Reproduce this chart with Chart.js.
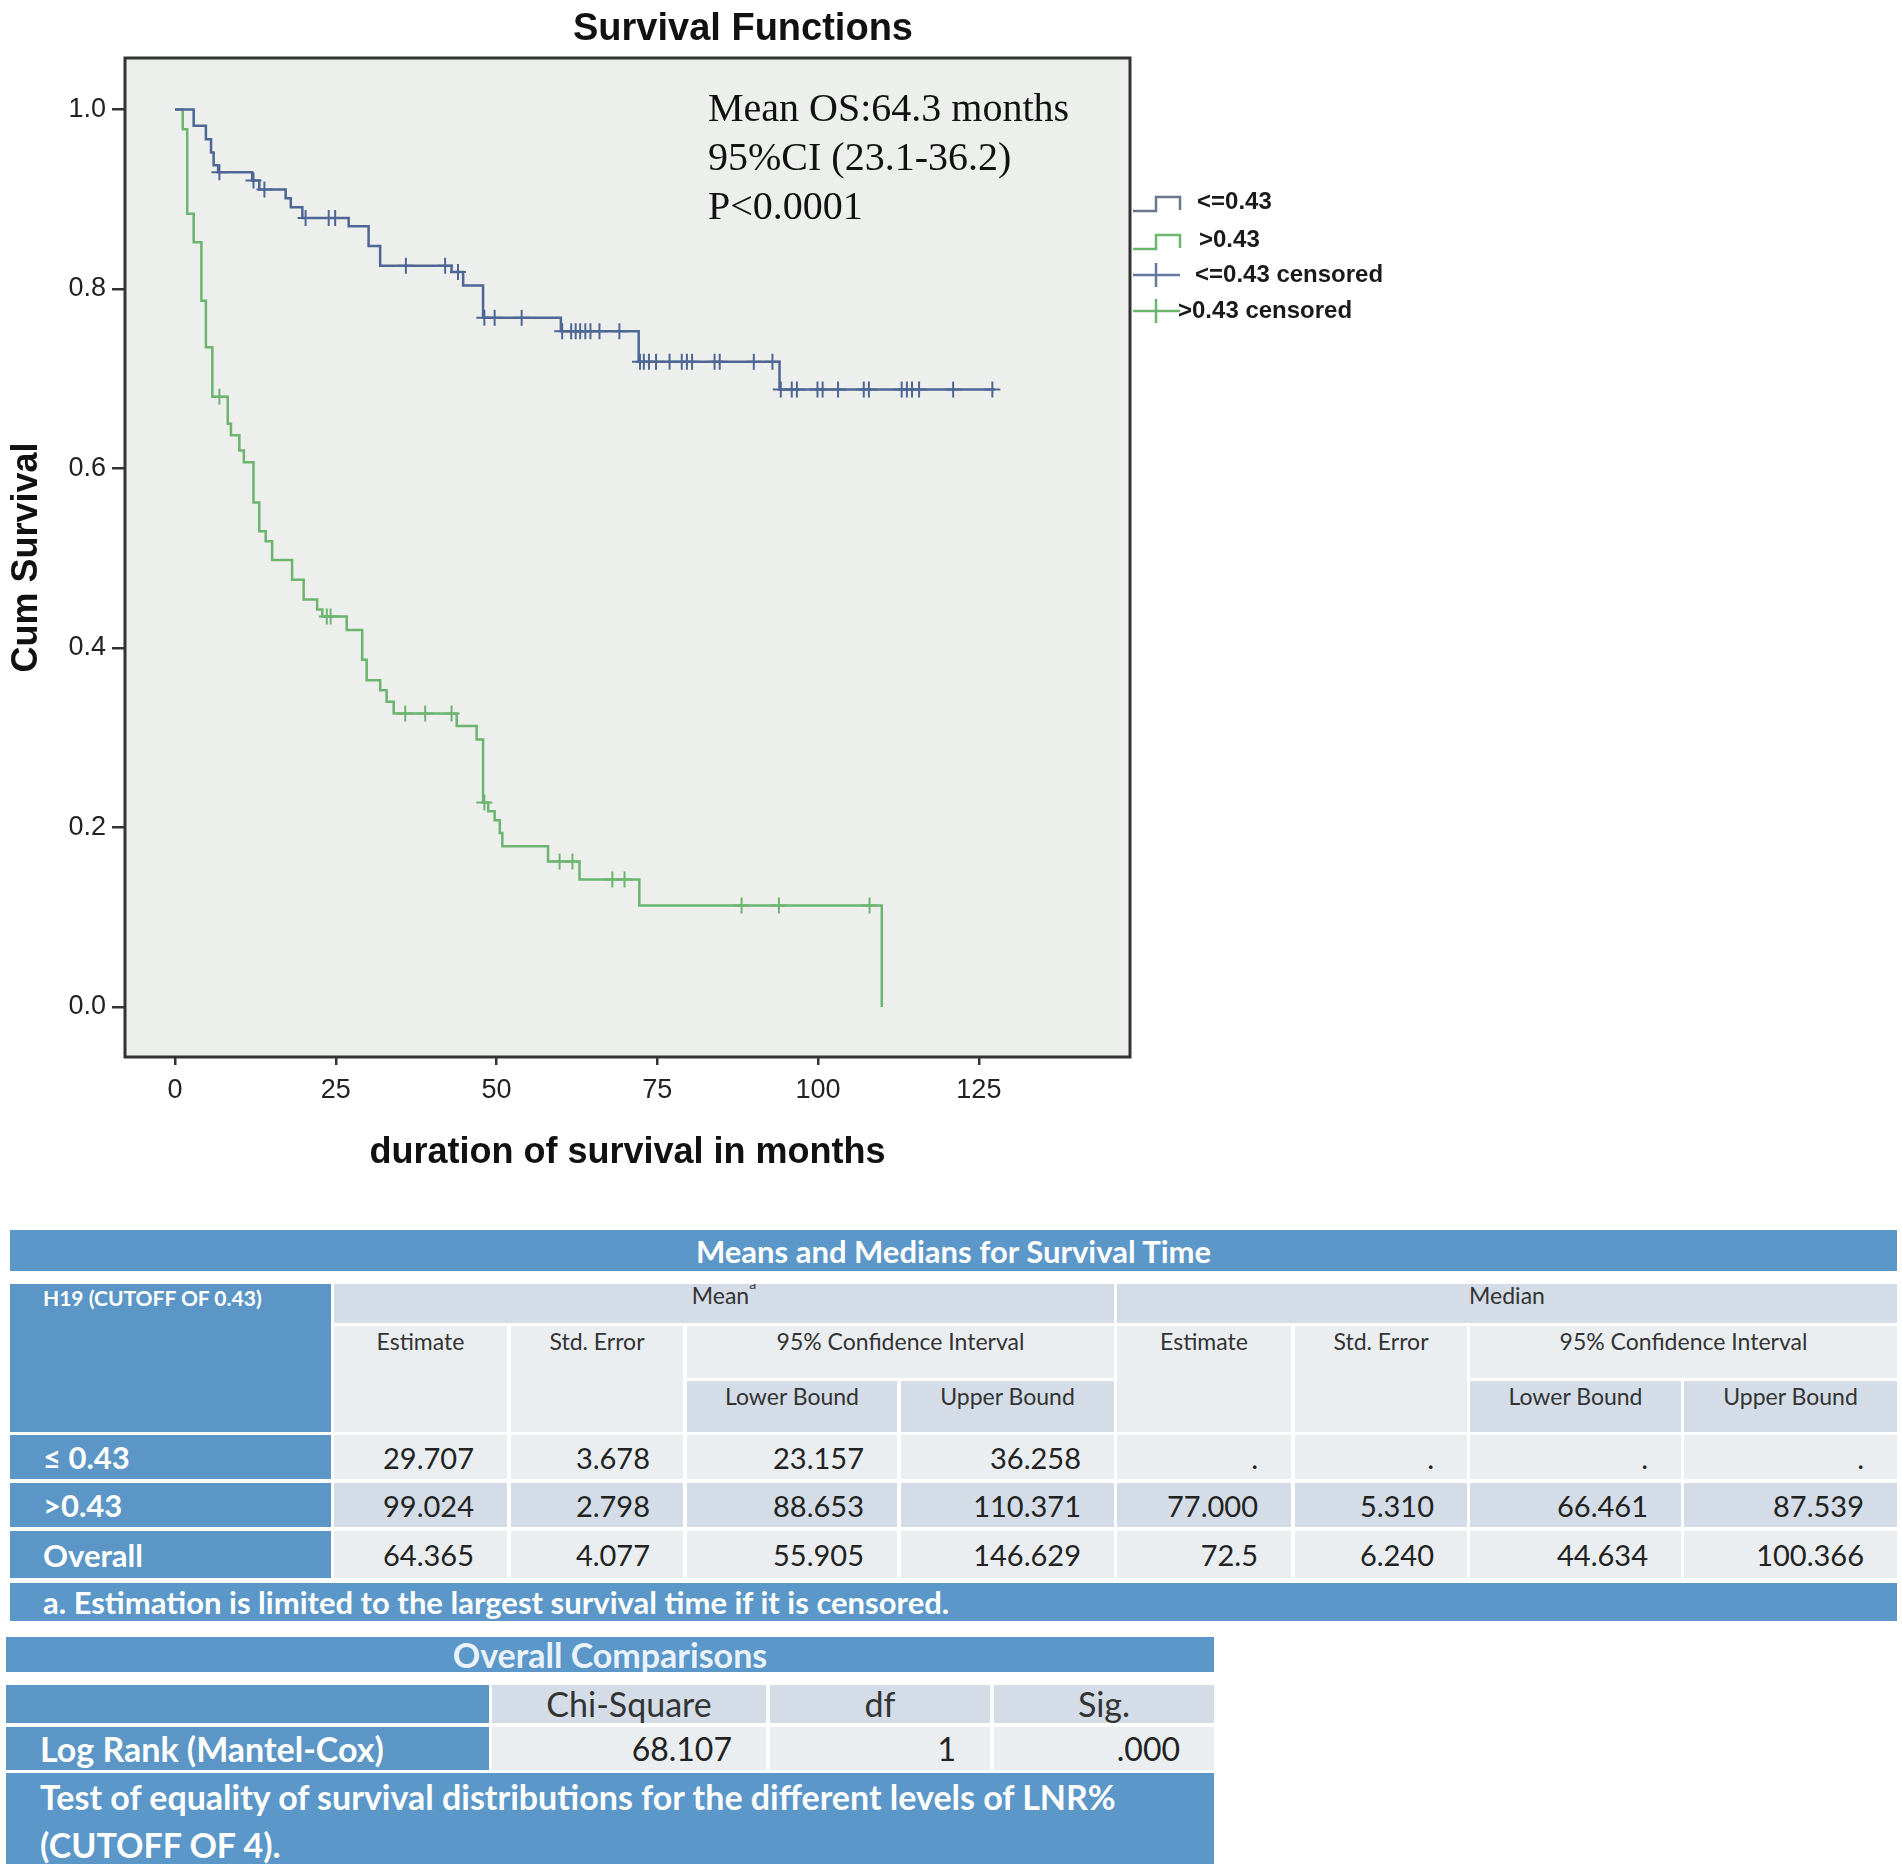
<!DOCTYPE html>
<html>
<head>
<meta charset="utf-8">
<title>Survival Functions</title>
<script src="https://cdn.jsdelivr.net/npm/chart.js@4.4.1/dist/chart.umd.min.js"></script>
<style>
  html, body { margin: 0; padding: 0; background: #fff; }
  body { width: 1902px; height: 1868px; position: relative; overflow: hidden; }
  #km { position: absolute; left: 0; top: 0; }
  .cell { position: absolute; box-sizing: border-box; display: flex; white-space: nowrap; overflow: hidden;
          font-family: Lato, "Open Sans", "Noto Sans", sans-serif; }
  .bar  { background: #5b97c8; color: #fff; font-weight: 700; align-items: center; }
  .ttl  { justify-content: center; font-size: 31px; }
  .stub { background: #5b96c6; color: #fff; font-weight: 700; align-items: center; padding-left: 33px; font-size: 31px; }
  .hd   { color: #333; font-size: 23px; justify-content: center; align-items: flex-start; line-height: 23px; }
  .blu  { background: #d4dde7; }
  .pal  { background: #ebeef1; }
  .num  { justify-content: flex-end; align-items: center; padding-right: 33px; font-size: 29px; color: #222; }
  .t2   { font-size: 34px; }
  sup   { font-size: 14px; line-height: 0; }
</style>
</head>
<body>
<canvas id="km" width="1486" height="1200"></canvas>
<script>
// ---- chart data ----
// Kaplan-Meier steps: time in months, cum survival after the drop
const lowTimes = [0, 2.9, 4.8, 5.6, 6.0, 6.7, 12.0, 13.1, 17.2, 18.0, 19.8, 27.0, 30.1, 31.9, 43.0, 44.8, 47.9, 60.0, 72.1, 94.0, 127.5];
const lowSurv  = [1.0, 0.982, 0.967, 0.952, 0.938, 0.930, 0.921, 0.911, 0.901, 0.891, 0.879, 0.870, 0.848, 0.826, 0.819, 0.804, 0.768, 0.753, 0.719, 0.688, 0.688];
const lowCensored = [6.9, 12.2, 13.9, 20.3, 23.9, 24.9, 35.9, 42.0, 44.0, 48.1, 49.7, 53.9, 60.2, 61.6, 62.3, 63.0, 63.8, 64.6, 66.0, 69.1,
                     72.3, 72.9, 73.7, 74.8, 76.9, 78.8, 79.6, 80.4, 83.9, 84.7, 90.0, 92.9, 94.2, 95.9, 96.7, 99.9, 100.7, 103.1,
                     107.1, 107.9, 113.0, 113.8, 114.6, 115.7, 121.0, 127.1];

const highTimes = [0, 1.2, 1.9, 2.9, 4.1, 4.8, 5.8, 8.2, 8.7, 10.0, 10.7, 12.2, 13.1, 14.1, 15.1, 18.2, 20.0, 22.1, 22.9, 26.7,
                   29.1, 29.8, 31.9, 32.9, 34.0, 43.8, 46.9, 47.9, 48.7, 49.7, 50.5, 50.9, 58.0, 62.9, 72.2, 109.9];
const highSurv  = [1.0, 0.978, 0.884, 0.852, 0.787, 0.735, 0.680, 0.650, 0.637, 0.620, 0.607, 0.562, 0.530, 0.519, 0.498, 0.476, 0.454, 0.443, 0.435, 0.420,
                   0.387, 0.364, 0.353, 0.340, 0.327, 0.313, 0.298, 0.228, 0.218, 0.208, 0.194, 0.179, 0.162, 0.142, 0.113, 0.0];
const highCensored = [6.9, 23.6, 24.2, 35.8, 38.9, 43.0, 48.1, 59.8, 61.8, 68.0, 69.9, 88.1, 93.9, 108.0];

const xTicks = [0, 25, 50, 75, 100, 125];
const yTicks = [0, 0.2, 0.4, 0.6, 0.8, 1.0];
const legendLabels = ['<=0.43', '>0.43', '<=0.43 censored', '>0.43 censored'];
const noteLines = ['Mean OS:64.3 months', '95%CI (23.1-36.2)', 'P<0.0001'];

// ---- table data ----
const meansTitle = 'Means and Medians for Survival Time';
const meansGroupHeader = 'H19 (CUTOFF OF 0.43)';
const meansRowLabels = ['\u2264 0.43', '>0.43', 'Overall'];
const meansRows = [
  ['29.707', '3.678', '23.157', '36.258', '.', '.', '.', '.'],
  ['99.024', '2.798', '88.653', '110.371', '77.000', '5.310', '66.461', '87.539'],
  ['64.365', '4.077', '55.905', '146.629', '72.5', '6.240', '44.634', '100.366']
];
const meansFootnote = 'a. Estimation is limited to the largest survival time if it is censored.';
const compTitle = 'Overall Comparisons';
const compHeaders = ['Chi-Square', 'df', 'Sig.'];
const compRowLabel = 'Log Rank (Mantel-Cox)';
const compValues = ['68.107', '1', '.000'];
const compFootnote = ['Test of equality of survival distributions for the different levels of LNR%', '(CUTOFF OF 4).'];

// ---- look ----
const LOW_COLOR = '#4d6694';
const HIGH_COLOR = '#6bb56e';
const PLOT_BG = '#edefed';
const SANS = '"Liberation Sans", Arial, sans-serif';

function stepPoints(times, surv) {
  return times.map((t, i) => ({ x: t, y: surv[i] }));
}

// survival level in effect at time t (for placing censor ticks on the curve)
function survivalAt(times, surv, t) {
  let s = surv[0];
  for (let i = 0; i < times.length; i++) {
    if (times[i] <= t) s = surv[i];
  }
  return s;
}

function censorPoints(censored, times, surv) {
  return censored.map(t => ({ x: t, y: survivalAt(times, surv, t) }));
}

// background, frame, note text and legend
const kmDecor = {
  id: 'kmDecor',
  beforeDraw(chart) {
    const { ctx, chartArea: a } = chart;
    ctx.save();
    ctx.fillStyle = PLOT_BG;
    ctx.fillRect(a.left, a.top, a.right - a.left, a.bottom - a.top);
    ctx.restore();
  },
  afterDraw(chart) {
    const { ctx, chartArea: a } = chart;
    ctx.save();
    ctx.strokeStyle = '#333';
    ctx.lineWidth = 3;
    ctx.strokeRect(a.left, a.top, a.right - a.left, a.bottom - a.top);

    // note inside plot
    ctx.fillStyle = '#111';
    ctx.font = '40px "Liberation Serif", "Times New Roman", serif';
    ctx.textBaseline = 'alphabetic';
    ctx.textAlign = 'left';
    noteLines.forEach((line, i) => ctx.fillText(line, 708, 121 + i * 49));

    // legend
    const rows = [
      { y: 202, kind: 'step', color: '#6a768a', tx: 1197 },
      { y: 240, kind: 'step', color: HIGH_COLOR, tx: 1199 },
      { y: 275, kind: 'cross', color: '#6479a0', tx: 1195 },
      { y: 311, kind: 'cross', color: HIGH_COLOR, tx: 1178 }
    ];
    ctx.lineWidth = 2.5;
    rows.forEach((r, i) => {
      ctx.strokeStyle = r.color;
      ctx.beginPath();
      if (r.kind === 'step') {
        ctx.moveTo(1133, r.y + 9);
        ctx.lineTo(1156, r.y + 9);
        ctx.lineTo(1156, r.y - 5);
        ctx.lineTo(1180, r.y - 5);
        ctx.lineTo(1180, r.y + 8);
      } else {
        ctx.moveTo(1133, r.y);
        ctx.lineTo(1180, r.y);
        ctx.moveTo(1156, r.y - 12);
        ctx.lineTo(1156, r.y + 12);
      }
      ctx.stroke();
      ctx.fillStyle = '#1a1a1a';
      ctx.font = 'bold 24px ' + SANS;
      ctx.textBaseline = 'middle';
      ctx.fillText(legendLabels[i], r.tx, r.y);
    });
    ctx.restore();
  }
};

new Chart(document.getElementById('km'), {
  type: 'line',
  data: {
    datasets: [
      {
        label: legendLabels[0],
        data: stepPoints(lowTimes, lowSurv),
        borderColor: LOW_COLOR, borderWidth: 2.5, stepped: true,
        pointRadius: 0, fill: false
      },
      {
        label: legendLabels[1],
        data: stepPoints(highTimes, highSurv),
        borderColor: HIGH_COLOR, borderWidth: 2.5, stepped: true,
        pointRadius: 0, fill: false
      },
      {
        label: legendLabels[2],
        data: censorPoints(lowCensored, lowTimes, lowSurv),
        showLine: false, pointStyle: 'cross', pointRadius: 8,
        borderColor: LOW_COLOR, pointBorderWidth: 2
      },
      {
        label: legendLabels[3],
        data: censorPoints(highCensored, highTimes, highSurv),
        showLine: false, pointStyle: 'cross', pointRadius: 8,
        borderColor: HIGH_COLOR, pointBorderWidth: 2
      }
    ]
  },
  options: {
    responsive: false,
    animation: false,
    layout: { padding: 0 },
    plugins: {
      legend: { display: false },
      tooltip: { enabled: false },
      title: {
        display: true,
        text: 'Survival Functions',
        color: '#111',
        font: { family: SANS, size: 38, weight: 'bold', lineHeight: 1.2 },
        padding: { top: 7, bottom: 5.4 }
      }
    },
    scales: {
      x: {
        type: 'linear',
        min: -7.78,
        max: 148.5,
        afterBuildTicks: s => { s.ticks = xTicks.map(v => ({ value: v })); },
        afterFit: s => { s.height = 143; },
        grid: { drawOnChartArea: false, drawTicks: true, tickLength: 8, color: '#333', lineWidth: 2.5 },
        border: { display: false },
        ticks: { color: '#222', font: { family: SANS, size: 27 }, padding: 9, maxRotation: 0 },
        title: {
          display: true, text: 'duration of survival in months', color: '#111',
          font: { family: SANS, size: 36, weight: 'bold', lineHeight: 1.2 },
          padding: { top: 0, bottom: 25 }
        }
      },
      y: {
        type: 'linear',
        position: 'left',
        min: -0.0557,
        max: 1.0574,
        afterBuildTicks: s => { s.ticks = yTicks.map(v => ({ value: v })); },
        afterFit: s => { s.width = 125; },
        grid: { drawOnChartArea: false, drawTicks: true, tickLength: 13, color: '#333', lineWidth: 2.5 },
        border: { display: false },
        ticks: { color: '#222', font: { family: SANS, size: 27 }, padding: 6, callback: v => v.toFixed(1) },
        title: {
          display: true, text: 'Cum Survival', color: '#111',
          font: { family: SANS, size: 36, weight: 'bold', lineHeight: 1.2 },
          padding: { top: 5, bottom: 0 }
        }
      },
      // empty right-hand strip that holds the legend
      side: {
        type: 'linear',
        axis: 'y',
        position: 'right',
        afterFit: s => { s.width = 356; },
        grid: { display: false },
        border: { display: false },
        ticks: { display: false }
      }
    }
  },
  plugins: [kmDecor]
});

// ---- tables ----
function box(x0, y0, x1, y1, cls, html) {
  const d = document.createElement('div');
  d.className = 'cell ' + cls;
  d.style.left = x0 + 'px';
  d.style.top = y0 + 'px';
  d.style.width = (x1 - x0) + 'px';
  d.style.height = (y1 - y0) + 'px';
  d.innerHTML = html;
  document.body.appendChild(d);
  return d;
}

// means and medians
const T1_L = [10, 334, 511, 687, 901, 1117, 1295, 1470, 1684];
const T1_R = [331, 507, 683, 897, 1114, 1291, 1467, 1681, 1897];
const T1_DATA_Y = [[1435, 1479], [1483, 1527], [1531, 1578]];

box(10, 1230, 1897, 1271, 'bar ttl', meansTitle);
const gh = box(10, 1284, 331, 1432, 'stub', meansGroupHeader);
gh.style.alignItems = 'flex-start';
gh.style.fontSize = '21px';
gh.style.paddingTop = '1px';

box(T1_L[1], 1284, T1_R[4], 1323, 'hd blu', 'Mean<sup>a</sup>');
box(T1_L[5], 1284, T1_R[8], 1323, 'hd blu', 'Median');
[1, 5].forEach(c => {
  box(T1_L[c], 1326, T1_R[c], 1432, 'hd pal', 'Estimate').style.paddingTop = '4px';
  box(T1_L[c + 1], 1326, T1_R[c + 1], 1432, 'hd pal', 'Std. Error').style.paddingTop = '4px';
  box(T1_L[c + 2], 1326, T1_R[c + 3], 1378, 'hd pal', '95% Confidence Interval').style.paddingTop = '4px';
  box(T1_L[c + 2], 1381, T1_R[c + 2], 1432, 'hd blu', 'Lower Bound').style.paddingTop = '4px';
  box(T1_L[c + 3], 1381, T1_R[c + 3], 1432, 'hd blu', 'Upper Bound').style.paddingTop = '4px';
});

meansRows.forEach((row, r) => {
  const [y0, y1] = T1_DATA_Y[r];
  box(10, y0, 331, y1, 'stub', meansRowLabels[r]);
  const shade = r === 1 ? 'blu' : 'pal';
  row.forEach((v, c) => box(T1_L[c + 1], y0, T1_R[c + 1], y1, 'num ' + shade, v));
});
const fn1 = box(10, 1583, 1897, 1621, 'bar', meansFootnote);
fn1.style.paddingLeft = '33px';
fn1.style.fontSize = '31px';

// overall comparisons
const T2_L = [6, 492, 770, 994];
const T2_R = [489, 766, 990, 1214];
const t2t = box(6, 1637, 1214, 1672, 'bar ttl', compTitle);
t2t.style.color = '#eaf3fb';
t2t.style.fontSize = '34px';
box(6, 1685, 489, 1723, 'stub', '');
compHeaders.forEach((h, i) => {
  const d = box(T2_L[i + 1], 1685, T2_R[i + 1], 1723, 'hd blu t2', h);
  d.style.alignItems = 'center';
  d.style.lineHeight = '34px';
});
const lr = box(6, 1727, 489, 1770, 'stub t2', compRowLabel);
lr.style.paddingLeft = '34px';
compValues.forEach((v, i) => {
  const d = box(T2_L[i + 1], 1727, T2_R[i + 1], 1770, 'num pal', v);
  d.style.paddingRight = '34px';
  d.style.fontSize = '32px';
});
const fn2 = box(6, 1773, 1214, 1864, 'bar t2', compFootnote.join('<br>'));
fn2.style.display = 'block';
fn2.style.whiteSpace = 'normal';
fn2.style.lineHeight = '48px';
fn2.style.paddingLeft = '34px';
</script>
</body>
</html>
